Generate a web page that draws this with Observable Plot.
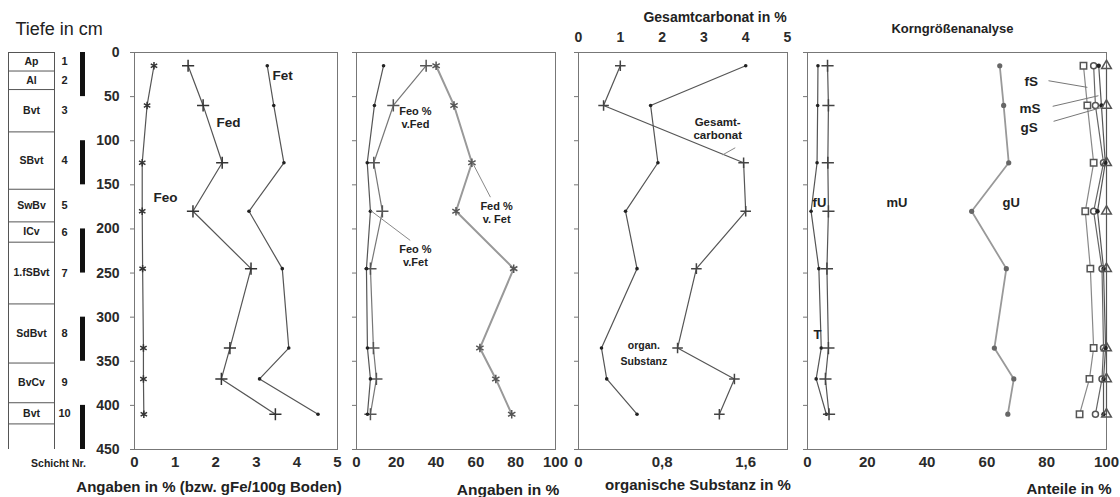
<!DOCTYPE html>
<html><head><meta charset="utf-8">
<script src="https://cdn.jsdelivr.net/npm/d3@7"></script>
<script src="https://cdn.jsdelivr.net/npm/@observablehq/plot@0.6"></script>
<style>
body{margin:0;background:#fff;}
#c{position:relative;width:1120px;height:497px;overflow:hidden;background:#fff;}
.p{position:absolute;top:0;}
</style></head><body><div id="c"></div>
<script>
// ---- data ----
const depths = [15, 60, 125, 180, 245, 335, 370, 410];
// panel 1: Fe fractions (%)
const Fet = [3.27, 3.43, 3.68, 2.82, 3.64, 3.80, 3.08, 4.52];
const Fed = [1.32, 1.69, 2.16, 1.44, 2.87, 2.35, 2.14, 3.47];
const Feo = [0.48, 0.31, 0.19, 0.19, 0.20, 0.22, 0.22, 0.23];
// panel 2: ratios (%)
const FedPctFet = [40, 49, 58, 50, 79, 62, 70, 78];
const FeoPctFed = [35, 18.5, 8.7, 13, 7, 8.5, 10, 7];
const FeoPctFet = [13.6, 9, 5.4, 7, 5, 5.5, 7, 5.5];
// panel 3
const carbonat = [1.0, 0.6, 3.95, 4.0, 2.82, 2.37, 3.73, 3.37];
const organ = [1.6, 0.69, 0.76, 0.45, 0.56, 0.22, 0.27, 0.56];
// panel 4: cumulative grain size fractions (%)
const cumT  = [3.5, 3.4, 3.2, 1.2, 3.8, 4.6, 2.9, 6.3];
const cumFU = [6.7, 7.0, 6.8, 7.0, 6.5, 7.0, 6.0, 7.2];
const cumMU = [64.3, 65.6, 67.3, 54.9, 66.5, 62.5, 69, 67];
const cumGU = [92.3, 93.6, 95.7, 92.9, 94.6, 95.7, 94.3, 91];
const cumFS = [95.7, 96.3, 99, 95.7, 98.5, 99, 98.5, 96.3];
const cumMS = [97.4, 98.3, 99.6, 97, 99, 99.7, 99, 99];
const cumGS = [100, 100, 100, 100, 100, 100, 100, 100];
// layer column
const layerNames = ["Ap","Al","Bvt","SBvt","SwBv","ICv","1.fSBvt","SdBvt","BvCv","Bvt"];
const layerNums = [1,2,3,4,5,6,7,8,9,10];
const layerTops = [0,21,42,90,155,192,215,285,352,397];
const layerBottoms = [21,42,90,155,192,215,285,352,397,421];
const scaleBarTops = [0,100,200,300,400];
const depthTicks = [0,50,100,150,200,250,300,350,400,450];
const ticks5 = [0,1,2,3,4,5];
const ticks100 = [0,20,40,60,80,100];
const organTicks = [0,0.8,1.6];

// ---- tables ----
const rows = depths.map((d,i)=>({depth:d, Fet:Fet[i], Fed:Fed[i], Feo:Feo[i],
  FedPctFet:FedPctFet[i], FeoPctFed:FeoPctFed[i], FeoPctFet:FeoPctFet[i],
  carbonat:carbonat[i], organ:organ[i],
  T:cumT[i], fU:cumFU[i], mU:cumMU[i], gU:cumGU[i], fS:cumFS[i], mS:cumMS[i], gS:cumGS[i]}));
const layers = layerNames.map((n,i)=>({name:n, num:layerNums[i], top:layerTops[i], bottom:layerBottoms[i], mid:(layerTops[i]+layerBottoms[i])/2}));
const bar = scaleBarTops.map(t=>({top:t, bottom:t+50}));

const FONT = '"Liberation Sans", Arial, Helvetica, sans-serif';
const INK = "#222";
const LINE = "#555";
const style = {background:"transparent", overflow:"visible", fontFamily:FONT, color:INK};
const Y = {domain:[0,450], reverse:true, axis:null};
const H = 497, MT = 52, MB = 48;
const fmt = d => String(d).replace(".", ",");
const c = document.getElementById("c");
function place(el,left){const d=document.createElement("div");d.className="p";d.style.left=left+"px";d.appendChild(el);c.appendChild(d);}
const bold = {fontWeight:"bold", fill:INK};
const mid = {lineAnchor:"middle", textAnchor:"middle"};
const tickText = {fontWeight:"bold", fill:"#2a2a2a"};

// ---- layer column ----
place(Plot.plot({
  width:100, height:H, marginLeft:0, marginRight:0, marginTop:MT, marginBottom:MB,
  x:{domain:[0,100], range:[0,100], axis:null}, y:Y, style,
  marks:[
    Plot.ruleY([...layerTops, 421], {y:d=>d, x1:8, x2:54, stroke:"#555"}),
    Plot.ruleX([8,54], {x:d=>d, y1:0, y2:450, stroke:"#555"}),
    Plot.text(layers, {x:31, y:"mid", text:"name", fontSize:10.5, letterSpacing:0.5, ...bold}),
    Plot.text(layers, {x:64, y:"mid", text:"num", fontSize:11, ...bold}),
    Plot.rect(bar, {x1:80, x2:85, y1:"top", y2:"bottom", fill:"#111"}),
    Plot.text(["Tiefe in cm"], {frameAnchor:"top-left", dx:15, dy:-23, textAnchor:"start", lineAnchor:"middle", fontSize:18, letterSpacing:1, fill:INK}),
    Plot.text(["Schicht Nr."], {frameAnchor:"bottom-left", dx:58, dy:14, ...mid, fontSize:10.5, letterSpacing:0.5, ...bold})
  ]
}), 0);

// ---- panel 1 ----
place(Plot.plot({
  width:257, height:H, marginLeft:44, marginRight:10, marginTop:MT, marginBottom:MB,
  x:{domain:[0,5]}, y:Y, style,
  marks:[
    Plot.frame({stroke:"#777"}),
    Plot.axisY({ticks:depthTicks, tickSize:4, tickPadding:11, fontSize:14, label:null, stroke:"#777", ...tickText}),
    Plot.axisX({ticks:ticks5, tickSize:0, tickPadding:7, fontSize:15, label:null, tickFormat:fmt, ...tickText}),
    Plot.line(rows, {x:"Fet", y:"depth", stroke:LINE, strokeWidth:1.2}),
    Plot.dot(rows, {x:"Fet", y:"depth", r:1.8, fill:"#222"}),
    Plot.line(rows, {x:"Fed", y:"depth", stroke:LINE, strokeWidth:1.2}),
    Plot.dot(rows, {x:"Fed", y:"depth", symbol:"plus", r:4, stroke:"#333"}),
    Plot.line(rows, {x:"Feo", y:"depth", stroke:LINE, strokeWidth:1.2}),
    Plot.dot(rows, {x:"Feo", y:"depth", symbol:"asterisk", r:3.5, stroke:"#333"}),
    Plot.text(["Fet","Fed","Feo"], {x:[3.40,2.02,0.47], y:[26,80,164], textAnchor:"start", fontSize:13.5, ...bold}),
    Plot.text(["Angaben in % (bzw. gFe/100g Boden)"], {frameAnchor:"bottom", dx:-27, dy:38, ...mid, fontSize:15, letterSpacing:0.2, ...bold})
  ]
}), 90);

// ---- panel 2 ----
place(Plot.plot({
  width:219, height:H, marginLeft:10, marginRight:10, marginTop:MT, marginBottom:MB,
  x:{domain:[0,100]}, y:Y, style,
  marks:[
    Plot.frame({stroke:"#777"}),
    Plot.axisY({ticks:depthTicks, tickSize:4, text:null, label:null, stroke:"#777"}),
    Plot.axisX({ticks:ticks100, tickSize:0, tickPadding:7, fontSize:15, label:null, tickFormat:fmt, ...tickText}),
    Plot.line(rows, {x:"FedPctFet", y:"depth", stroke:"#999", strokeWidth:2}),
    Plot.dot(rows, {x:"FedPctFet", y:"depth", symbol:"asterisk", r:4, stroke:"#555"}),
    Plot.line(rows, {x:"FeoPctFed", y:"depth", stroke:"#777", strokeWidth:1.2}),
    Plot.dot(rows, {x:"FeoPctFed", y:"depth", symbol:"plus", r:4, stroke:"#555"}),
    Plot.line(rows, {x:"FeoPctFet", y:"depth", stroke:LINE, strokeWidth:1.2}),
    Plot.dot(rows, {x:"FeoPctFet", y:"depth", r:1.8, fill:"#222"}),
    Plot.link([{a:58.3,b:125,c:67.3,d:164},{a:7,b:179,c:27,d:213}], {x1:"a", y1:"b", x2:"c", y2:"d", stroke:"#888"}),
    Plot.text(["Feo %\nv.Fed","Fed %\nv. Fet","Feo %\nv.Fet"], {x:[29.6,70.4,29.6], y:[73,181,230], fontSize:11, lineHeight:1.2, ...bold}),
    Plot.text(["Angaben in %"], {frameAnchor:"bottom", dx:52, dy:41, ...mid, fontSize:15.5, letterSpacing:0.5, ...bold})
  ]
}), 346);

// ---- panel 3: Gesamtcarbonat scale (top) ----
place(Plot.plot({
  width:229, height:H, marginLeft:10, marginRight:10, marginTop:MT, marginBottom:MB,
  x:{domain:[0,5]}, y:Y, style,
  marks:[
    Plot.frame({stroke:"#777"}),
    Plot.axisY({ticks:depthTicks, tickSize:4, text:null, label:null, stroke:"#777"}),
    Plot.axisX({anchor:"top", ticks:ticks5, tickSize:0, tickPadding:11, fontSize:14, label:null, tickFormat:fmt, ...tickText}),
    Plot.line(rows, {x:"carbonat", y:"depth", stroke:LINE, strokeWidth:1.2}),
    Plot.dot(rows, {x:"carbonat", y:"depth", symbol:"plus", r:3.5, stroke:"#444"}),
    Plot.link([{a:3.45,b:116,c:3.75,d:108}], {x1:"a", y1:"b", x2:"c", y2:"d", stroke:"#888"}),
    Plot.text(["Gesamt-\ncarbonat"], {x:3.33, y:86, fontSize:11.5, lineHeight:1.1, letterSpacing:0.5, ...bold}),
    Plot.text(["Gesamtcarbonat in %"], {frameAnchor:"top", dx:32, dy:-35, ...mid, fontSize:14, letterSpacing:0.5, ...bold})
  ]
}), 568);

// ---- panel 3: organische Substanz scale (bottom) ----
place(Plot.plot({
  width:229, height:H, marginLeft:10, marginRight:10, marginTop:MT, marginBottom:MB,
  x:{domain:[0,2]}, y:Y, style,
  marks:[
    Plot.axisX({ticks:organTicks, tickSize:0, tickPadding:7, fontSize:15, label:null, tickFormat:fmt, ...tickText}),
    Plot.line(rows, {x:"organ", y:"depth", stroke:LINE, strokeWidth:1.2}),
    Plot.dot(rows, {x:"organ", y:"depth", r:1.8, fill:"#222"}),
    Plot.text(["organ.\nSubstanz"], {x:0.625, y:339, fontSize:10.5, lineHeight:1.6, letterSpacing:0.4, ...bold}),
    Plot.text(["organische Substanz in %"], {frameAnchor:"bottom", dx:15, dy:36, ...mid, fontSize:15, letterSpacing:0.3, ...bold})
  ]
}), 568);

// ---- panel 4 ----
place(Plot.plot({
  width:323, height:H, marginLeft:10, marginRight:14, marginTop:MT, marginBottom:MB,
  x:{domain:[0,100]}, y:Y, style,
  marks:[
    Plot.frame({stroke:"#777"}),
    Plot.axisY({ticks:depthTicks, tickSize:4, text:null, label:null, stroke:"#777"}),
    Plot.axisX({ticks:ticks100, tickSize:0, tickPadding:7, fontSize:15, label:null, tickFormat:fmt, ...tickText}),
    Plot.line(rows, {x:"T", y:"depth", stroke:LINE, strokeWidth:1.2}),
    Plot.dot(rows, {x:"T", y:"depth", r:1.8, fill:"#222"}),
    Plot.line(rows, {x:"fU", y:"depth", stroke:LINE, strokeWidth:1.2}),
    Plot.dot(rows, {x:"fU", y:"depth", symbol:"plus", r:4, stroke:"#444"}),
    Plot.line(rows, {x:"mU", y:"depth", stroke:"#999", strokeWidth:1.8}),
    Plot.dot(rows, {x:"mU", y:"depth", r:2.6, fill:"#666"}),
    Plot.line(rows, {x:"gU", y:"depth", stroke:"#888", strokeWidth:1.2}),
    Plot.line(rows, {x:"fS", y:"depth", stroke:"#666", strokeWidth:1.2}),
    Plot.line(rows, {x:"mS", y:"depth", stroke:"#555", strokeWidth:1.2}),
    Plot.line(rows, {x:"gS", y:"depth", stroke:"#555", strokeWidth:1.2}),
    Plot.dot(rows, {x:"gU", y:"depth", symbol:"square", r:3.6, stroke:"#555", fill:"white"}),
    Plot.dot(rows, {x:"fS", y:"depth", symbol:"circle", r:3, stroke:"#555", fill:"white"}),
    Plot.dot(rows, {x:"mS", y:"depth", r:2.2, fill:"#222"}),
    Plot.dot(rows, {x:"gS", y:"depth", symbol:"triangle", r:3.6, stroke:"#555", fill:"none"}),
    Plot.link([{a:80.6,b:32,c:93.6,d:39.5},{a:82,b:61,c:97.3,d:49},{a:82.3,b:78,c:98.7,d:62}], {x1:"a", y1:"b", x2:"c", y2:"d", stroke:"#777"}),
    Plot.text(["fS","mS","gS"], {x:[72.6,70.9,71.2], y:[33,63.5,85], textAnchor:"start", fontSize:13.5, ...bold}),
    Plot.text(["fU","mU","gU","T"], {x:[1.7,26.4,65.2,2], y:[170,170,170,320], textAnchor:"start", fontSize:13, ...bold}),
    Plot.text(["Korngrößenanalyse"], {frameAnchor:"top", dx:-4.5, dy:-24, ...mid, fontSize:13, letterSpacing:1, ...bold}),
    Plot.text(["Anteile in %"], {frameAnchor:"bottom", dx:112, dy:40, ...mid, fontSize:15, letterSpacing:0.5, ...bold})
  ]
}), 797);
</script></body></html>
